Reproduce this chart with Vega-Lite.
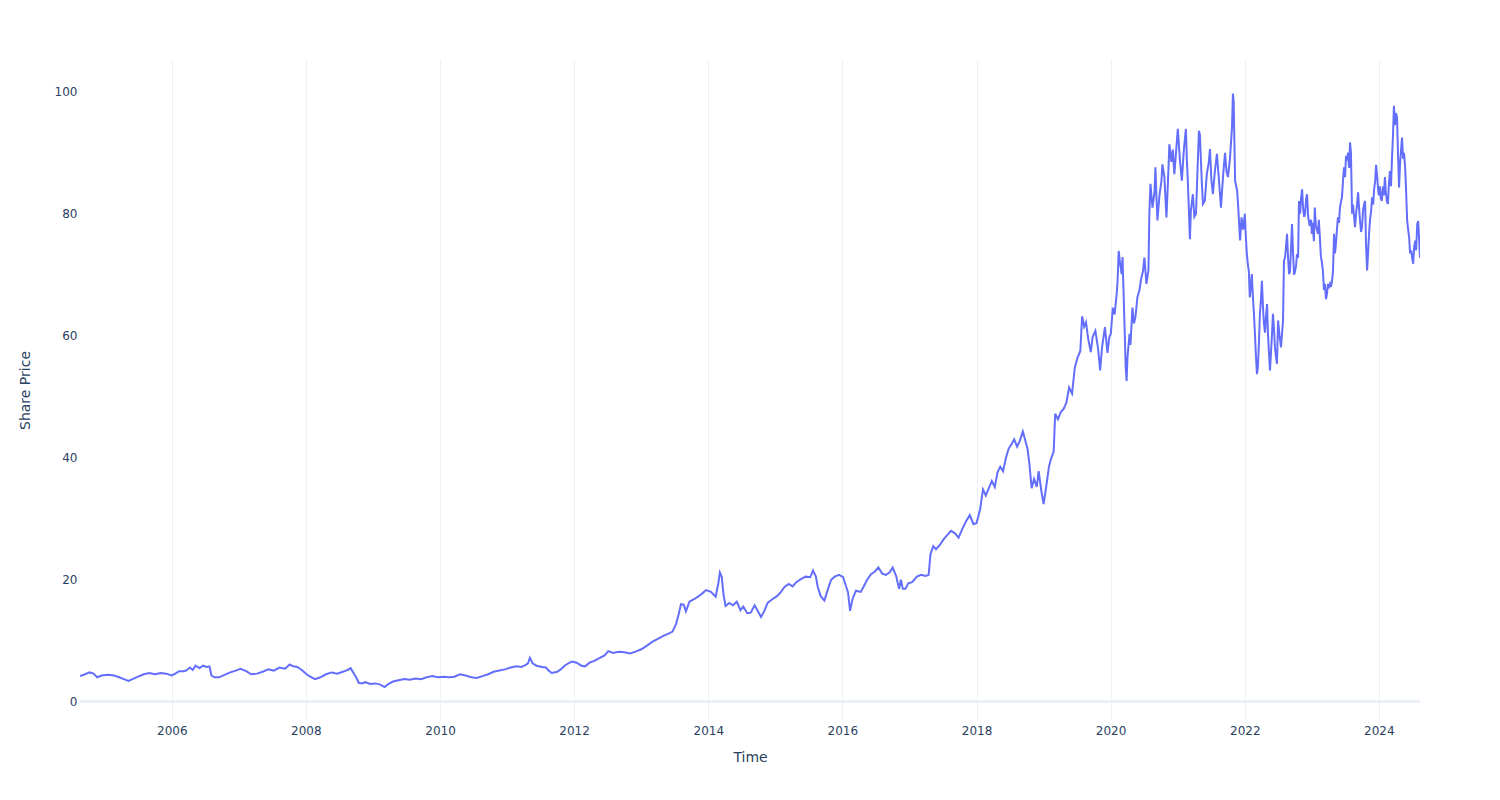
{
  "$schema": "https://vega.github.io/schema/vega-lite/v6.json",
  "width": 1340,
  "height": 660,
  "autosize": {"type": "none"},
  "padding": {"left": 80, "top": 60, "right": 80, "bottom": 80},
  "background": "white",
  "config": {
    "view": {"stroke": null},
    "font": "DejaVu Sans",
    "axis": {
      "domain": false,
      "ticks": false,
      "gridColor": "#EBF0F8",
      "gridWidth": 1,
      "labelColor": "#2a3f5f",
      "titleColor": "#2a3f5f",
      "labelFont": "DejaVu Sans",
      "titleFont": "DejaVu Sans",
      "labelFontSize": 12,
      "titleFontSize": 14,
      "titleFontWeight": "normal"
    }
  },
  "data": {"values": [
    {"d":"2004-08-19","v":4.2},{"d":"2004-09-15","v":4.5},{"d":"2004-10-10","v":4.8},{"d":"2004-11-01","v":4.6},{"d":"2004-11-20","v":4.0},{"d":"2004-12-15","v":4.3},
    {"d":"2005-01-20","v":4.4},{"d":"2005-02-20","v":4.3},{"d":"2005-03-20","v":4.0},{"d":"2005-04-15","v":3.7},{"d":"2005-05-10","v":3.4},{"d":"2005-06-01","v":3.7},{"d":"2005-07-01","v":4.1},{"d":"2005-08-01","v":4.5},{"d":"2005-09-01","v":4.7},{"d":"2005-10-01","v":4.5},{"d":"2005-11-01","v":4.7},{"d":"2005-12-01","v":4.6},
    {"d":"2006-01-01","v":4.3},{"d":"2006-01-20","v":4.6},{"d":"2006-02-10","v":5.0},{"d":"2006-03-05","v":5.0},{"d":"2006-03-20","v":5.1},{"d":"2006-04-10","v":5.6},{"d":"2006-04-25","v":5.2},{"d":"2006-05-10","v":5.9},{"d":"2006-06-01","v":5.5},{"d":"2006-06-20","v":5.9},{"d":"2006-07-10","v":5.7},{"d":"2006-07-25","v":5.8},{"d":"2006-08-05","v":4.3},{"d":"2006-08-20","v":4.0},{"d":"2006-09-15","v":4.0},{"d":"2006-10-15","v":4.4},{"d":"2006-11-15","v":4.8},{"d":"2006-12-15","v":5.1},
    {"d":"2007-01-10","v":5.4},{"d":"2007-02-10","v":5.0},{"d":"2007-03-10","v":4.5},{"d":"2007-04-10","v":4.6},{"d":"2007-05-10","v":4.9},{"d":"2007-06-10","v":5.3},{"d":"2007-07-10","v":5.1},{"d":"2007-08-10","v":5.6},{"d":"2007-09-10","v":5.4},{"d":"2007-10-05","v":6.1},{"d":"2007-10-25","v":5.8},{"d":"2007-11-15","v":5.7},{"d":"2007-12-10","v":5.2},
    {"d":"2008-01-05","v":4.5},{"d":"2008-01-25","v":4.1},{"d":"2008-02-20","v":3.7},{"d":"2008-03-20","v":4.0},{"d":"2008-04-20","v":4.5},{"d":"2008-05-20","v":4.8},{"d":"2008-06-20","v":4.6},{"d":"2008-07-20","v":4.9},{"d":"2008-08-15","v":5.2},{"d":"2008-09-01","v":5.5},{"d":"2008-09-15","v":4.8},{"d":"2008-10-01","v":4.0},{"d":"2008-10-15","v":3.1},{"d":"2008-11-01","v":3.0},{"d":"2008-11-20","v":3.2},{"d":"2008-12-15","v":2.9},
    {"d":"2009-01-15","v":3.0},{"d":"2009-02-10","v":2.8},{"d":"2009-03-05","v":2.4},{"d":"2009-03-25","v":2.9},{"d":"2009-04-20","v":3.3},{"d":"2009-05-20","v":3.5},{"d":"2009-06-20","v":3.7},{"d":"2009-07-20","v":3.6},{"d":"2009-08-20","v":3.8},{"d":"2009-09-20","v":3.7},{"d":"2009-10-20","v":4.0},{"d":"2009-11-20","v":4.2},{"d":"2009-12-20","v":4.0},
    {"d":"2010-01-20","v":4.1},{"d":"2010-02-20","v":4.0},{"d":"2010-03-20","v":4.1},{"d":"2010-04-20","v":4.5},{"d":"2010-05-20","v":4.3},{"d":"2010-06-20","v":4.0},{"d":"2010-07-20","v":3.9},{"d":"2010-08-20","v":4.2},{"d":"2010-09-20","v":4.5},{"d":"2010-10-20","v":4.9},{"d":"2010-11-20","v":5.1},{"d":"2010-12-20","v":5.3},
    {"d":"2011-01-20","v":5.6},{"d":"2011-02-20","v":5.8},{"d":"2011-03-20","v":5.7},{"d":"2011-04-10","v":6.0},{"d":"2011-04-25","v":6.3},{"d":"2011-05-05","v":7.2},{"d":"2011-05-20","v":6.3},{"d":"2011-06-10","v":5.9},{"d":"2011-07-10","v":5.7},{"d":"2011-08-01","v":5.6},{"d":"2011-08-15","v":5.1},{"d":"2011-09-01","v":4.7},{"d":"2011-10-01","v":4.9},{"d":"2011-10-20","v":5.3},{"d":"2011-11-10","v":5.9},{"d":"2011-12-01","v":6.3},{"d":"2011-12-20","v":6.6},
    {"d":"2012-01-15","v":6.4},{"d":"2012-02-10","v":5.9},{"d":"2012-03-01","v":5.8},{"d":"2012-03-25","v":6.4},{"d":"2012-04-20","v":6.7},{"d":"2012-05-20","v":7.2},{"d":"2012-06-15","v":7.6},{"d":"2012-07-05","v":8.3},{"d":"2012-08-01","v":8.0},{"d":"2012-09-01","v":8.2},{"d":"2012-10-01","v":8.1},{"d":"2012-11-01","v":7.9},{"d":"2012-12-01","v":8.2},
    {"d":"2013-01-01","v":8.6},{"d":"2013-02-01","v":9.2},{"d":"2013-03-01","v":9.8},{"d":"2013-04-01","v":10.3},{"d":"2013-05-01","v":10.8},{"d":"2013-06-01","v":11.2},{"d":"2013-06-20","v":11.5},{"d":"2013-07-10","v":12.8},{"d":"2013-07-25","v":14.5},{"d":"2013-08-05","v":16.0},{"d":"2013-08-20","v":15.9},{"d":"2013-09-01","v":14.8},{"d":"2013-09-20","v":16.4},{"d":"2013-10-15","v":16.8},{"d":"2013-11-10","v":17.3},{"d":"2013-12-01","v":17.8},{"d":"2013-12-20","v":18.3},
    {"d":"2014-01-15","v":18.0},{"d":"2014-02-10","v":17.2},{"d":"2014-02-25","v":19.5},{"d":"2014-03-05","v":21.2},{"d":"2014-03-15","v":20.5},{"d":"2014-03-25","v":17.5},{"d":"2014-04-05","v":15.7},{"d":"2014-04-25","v":16.2},{"d":"2014-05-15","v":15.8},{"d":"2014-06-05","v":16.4},{"d":"2014-06-25","v":15.0},{"d":"2014-07-10","v":15.6},{"d":"2014-08-01","v":14.5},{"d":"2014-08-20","v":14.6},{"d":"2014-09-10","v":15.8},{"d":"2014-09-25","v":15.0},{"d":"2014-10-15","v":13.9},{"d":"2014-11-01","v":14.8},{"d":"2014-11-20","v":16.2},{"d":"2014-12-15","v":16.8},
    {"d":"2015-01-10","v":17.3},{"d":"2015-02-01","v":18.0},{"d":"2015-02-20","v":18.8},{"d":"2015-03-15","v":19.3},{"d":"2015-04-05","v":18.9},{"d":"2015-04-25","v":19.6},{"d":"2015-05-20","v":20.1},{"d":"2015-06-15","v":20.5},{"d":"2015-07-10","v":20.4},{"d":"2015-07-25","v":21.5},{"d":"2015-08-10","v":20.5},{"d":"2015-08-20","v":18.8},{"d":"2015-09-05","v":17.3},{"d":"2015-09-25","v":16.6},{"d":"2015-10-15","v":18.5},{"d":"2015-11-01","v":20.0},{"d":"2015-11-20","v":20.5},{"d":"2015-12-15","v":20.8},
    {"d":"2016-01-05","v":20.4},{"d":"2016-01-20","v":19.0},{"d":"2016-02-01","v":17.9},{"d":"2016-02-12","v":14.9},{"d":"2016-02-25","v":16.8},{"d":"2016-03-15","v":18.2},{"d":"2016-04-10","v":18.0},{"d":"2016-04-25","v":18.8},{"d":"2016-05-15","v":20.0},{"d":"2016-06-05","v":20.9},{"d":"2016-06-25","v":21.3},{"d":"2016-07-15","v":22.0},{"d":"2016-08-05","v":21.0},{"d":"2016-08-25","v":20.8},{"d":"2016-09-15","v":21.2},{"d":"2016-10-01","v":22.0},{"d":"2016-10-20","v":20.6},{"d":"2016-11-05","v":18.5},{"d":"2016-11-15","v":20.0},{"d":"2016-11-25","v":18.5},{"d":"2016-12-10","v":18.5},{"d":"2016-12-25","v":19.4},
    {"d":"2017-01-15","v":19.6},{"d":"2017-02-10","v":20.5},{"d":"2017-03-05","v":20.8},{"d":"2017-03-30","v":20.6},{"d":"2017-04-15","v":20.8},{"d":"2017-04-25","v":24.2},{"d":"2017-05-10","v":25.5},{"d":"2017-05-25","v":25.0},{"d":"2017-06-15","v":25.7},{"d":"2017-07-05","v":26.6},{"d":"2017-07-25","v":27.3},{"d":"2017-08-15","v":28.0},{"d":"2017-09-05","v":27.6},{"d":"2017-09-25","v":26.9},{"d":"2017-10-15","v":28.3},{"d":"2017-11-05","v":29.6},{"d":"2017-11-25","v":30.6},{"d":"2017-12-15","v":29.1},
    {"d":"2018-01-01","v":29.3},{"d":"2018-01-20","v":31.5},{"d":"2018-02-05","v":34.8},{"d":"2018-02-20","v":33.8},{"d":"2018-03-10","v":35.1},{"d":"2018-03-25","v":36.2},{"d":"2018-04-10","v":35.2},{"d":"2018-04-25","v":37.6},{"d":"2018-05-10","v":38.5},{"d":"2018-05-25","v":37.8},{"d":"2018-06-10","v":40.0},{"d":"2018-06-25","v":41.5},{"d":"2018-07-10","v":42.2},{"d":"2018-07-25","v":43.0},{"d":"2018-08-10","v":41.8},{"d":"2018-08-25","v":42.8},{"d":"2018-09-10","v":44.3},{"d":"2018-09-20","v":43.2},{"d":"2018-10-05","v":41.5},{"d":"2018-10-15","v":39.2},{"d":"2018-10-28","v":35.0},{"d":"2018-11-10","v":36.5},{"d":"2018-11-25","v":35.2},{"d":"2018-12-05","v":37.8},{"d":"2018-12-20","v":34.5},
    {"d":"2019-01-01","v":32.4},{"d":"2019-01-15","v":35.2},{"d":"2019-01-30","v":38.5},{"d":"2019-02-10","v":39.8},{"d":"2019-02-25","v":41.0},{"d":"2019-03-05","v":47.2},{"d":"2019-03-20","v":46.3},{"d":"2019-04-05","v":47.5},{"d":"2019-04-20","v":48.0},{"d":"2019-05-05","v":49.0},{"d":"2019-05-20","v":51.5},{"d":"2019-06-05","v":50.5},{"d":"2019-06-20","v":54.8},{"d":"2019-07-05","v":56.4},{"d":"2019-07-20","v":57.5},{"d":"2019-07-30","v":63.2},{"d":"2019-08-10","v":61.5},{"d":"2019-08-20","v":62.2},{"d":"2019-09-01","v":59.5},{"d":"2019-09-15","v":57.3},{"d":"2019-09-25","v":59.8},{"d":"2019-10-10","v":60.8},{"d":"2019-10-25","v":57.8},{"d":"2019-11-05","v":54.3},{"d":"2019-11-15","v":58.0},{"d":"2019-12-01","v":61.4},{"d":"2019-12-15","v":57.2},{"d":"2019-12-25","v":59.8},
    {"d":"2020-01-02","v":60.3},{"d":"2020-01-13","v":64.6},{"d":"2020-01-23","v":63.5},{"d":"2020-02-03","v":66.8},{"d":"2020-02-08","v":69.0},{"d":"2020-02-14","v":73.9},{"d":"2020-02-21","v":72.0},{"d":"2020-03-01","v":70.1},{"d":"2020-03-06","v":72.9},{"d":"2020-03-17","v":61.4},{"d":"2020-03-23","v":55.0},{"d":"2020-03-28","v":52.6},{"d":"2020-04-02","v":56.5},{"d":"2020-04-13","v":60.3},{"d":"2020-04-18","v":58.5},{"d":"2020-04-29","v":64.6},{"d":"2020-05-07","v":62.0},{"d":"2020-05-15","v":63.0},{"d":"2020-05-26","v":66.3},{"d":"2020-06-06","v":67.5},{"d":"2020-06-17","v":69.6},{"d":"2020-06-25","v":70.5},{"d":"2020-07-03","v":72.8},{"d":"2020-07-14","v":68.5},{"d":"2020-07-25","v":70.7},{"d":"2020-07-30","v":80.0},{"d":"2020-08-05","v":84.9},{"d":"2020-08-16","v":81.0},{"d":"2020-08-27","v":83.5},{"d":"2020-09-01","v":87.6},{"d":"2020-09-07","v":82.5},{"d":"2020-09-12","v":78.9},{"d":"2020-09-23","v":83.0},{"d":"2020-10-04","v":85.4},{"d":"2020-10-09","v":88.1},{"d":"2020-10-20","v":86.0},{"d":"2020-10-31","v":79.4},{"d":"2020-11-08","v":85.0},{"d":"2020-11-16","v":91.4},{"d":"2020-11-27","v":88.5},{"d":"2020-12-05","v":90.5},{"d":"2020-12-13","v":86.5},{"d":"2020-12-21","v":89.5},
    {"d":"2021-01-01","v":93.9},{"d":"2021-01-12","v":89.0},{"d":"2021-01-23","v":85.4},{"d":"2021-02-03","v":90.5},{"d":"2021-02-14","v":93.9},{"d":"2021-02-19","v":89.0},{"d":"2021-02-25","v":85.0},{"d":"2021-03-08","v":75.8},{"d":"2021-03-13","v":80.5},{"d":"2021-03-24","v":83.2},{"d":"2021-04-01","v":79.5},{"d":"2021-04-10","v":80.0},{"d":"2021-04-18","v":87.0},{"d":"2021-04-26","v":93.6},{"d":"2021-05-01","v":93.0},{"d":"2021-05-12","v":84.9},{"d":"2021-05-18","v":81.6},{"d":"2021-05-28","v":82.1},{"d":"2021-06-08","v":86.5},{"d":"2021-06-19","v":88.5},{"d":"2021-06-25","v":90.6},{"d":"2021-07-03","v":85.5},{"d":"2021-07-11","v":83.2},{"d":"2021-07-22","v":87.0},{"d":"2021-08-02","v":89.8},{"d":"2021-08-13","v":85.5},{"d":"2021-08-24","v":81.0},{"d":"2021-09-04","v":86.0},{"d":"2021-09-15","v":90.0},{"d":"2021-09-23","v":87.0},{"d":"2021-10-01","v":86.0},{"d":"2021-10-12","v":89.0},{"d":"2021-10-23","v":94.1},{"d":"2021-10-28","v":99.7},{"d":"2021-11-01","v":98.5},{"d":"2021-11-09","v":85.4},{"d":"2021-11-20","v":83.8},{"d":"2021-11-25","v":81.6},{"d":"2021-12-06","v":75.6},{"d":"2021-12-14","v":79.4},{"d":"2021-12-23","v":77.4},
    {"d":"2022-01-01","v":80.0},{"d":"2022-01-06","v":76.5},{"d":"2022-01-12","v":73.4},{"d":"2022-01-17","v":71.8},{"d":"2022-01-23","v":70.5},{"d":"2022-01-28","v":66.3},{"d":"2022-02-03","v":68.0},{"d":"2022-02-08","v":70.1},{"d":"2022-02-14","v":66.3},{"d":"2022-02-19","v":64.0},{"d":"2022-02-25","v":60.3},{"d":"2022-03-02","v":57.0},{"d":"2022-03-08","v":53.7},{"d":"2022-03-13","v":54.8},{"d":"2022-03-19","v":59.0},{"d":"2022-03-24","v":63.6},{"d":"2022-03-30","v":66.0},{"d":"2022-04-04","v":69.0},{"d":"2022-04-10","v":64.6},{"d":"2022-04-15","v":62.0},{"d":"2022-04-21","v":60.5},{"d":"2022-04-26","v":63.0},{"d":"2022-05-02","v":65.2},{"d":"2022-05-07","v":60.3},{"d":"2022-05-12","v":57.5},{"d":"2022-05-18","v":54.3},{"d":"2022-05-23","v":57.0},{"d":"2022-05-29","v":60.3},{"d":"2022-06-03","v":63.6},{"d":"2022-06-09","v":61.0},{"d":"2022-06-14","v":58.1},{"d":"2022-06-20","v":56.5},{"d":"2022-06-25","v":55.4},{"d":"2022-07-01","v":62.5},{"d":"2022-07-09","v":60.0},{"d":"2022-07-17","v":58.1},{"d":"2022-07-23","v":60.5},{"d":"2022-07-28","v":62.5},{"d":"2022-08-02","v":72.3},{"d":"2022-08-08","v":72.8},{"d":"2022-08-13","v":74.5},{"d":"2022-08-19","v":76.7},{"d":"2022-08-24","v":73.0},{"d":"2022-08-30","v":70.1},{"d":"2022-09-04","v":70.5},{"d":"2022-09-09","v":74.0},{"d":"2022-09-15","v":78.3},{"d":"2022-09-20","v":74.0},{"d":"2022-09-26","v":70.0},{"d":"2022-10-01","v":70.5},{"d":"2022-10-07","v":71.5},{"d":"2022-10-12","v":73.4},{"d":"2022-10-18","v":72.8},{"d":"2022-10-23","v":82.1},{"d":"2022-10-29","v":80.0},{"d":"2022-11-03","v":82.5},{"d":"2022-11-09","v":84.0},{"d":"2022-11-14","v":81.0},{"d":"2022-11-20","v":79.5},{"d":"2022-11-25","v":80.0},{"d":"2022-12-01","v":82.5},{"d":"2022-12-06","v":83.2},{"d":"2022-12-12","v":79.5},{"d":"2022-12-20","v":78.0},{"d":"2022-12-28","v":79.0},
    {"d":"2023-01-01","v":76.7},{"d":"2023-01-06","v":78.5},{"d":"2023-01-12","v":75.5},{"d":"2023-01-17","v":81.0},{"d":"2023-01-23","v":78.0},{"d":"2023-01-28","v":77.5},{"d":"2023-02-03","v":76.7},{"d":"2023-02-08","v":79.0},{"d":"2023-02-14","v":76.0},{"d":"2023-02-19","v":73.0},{"d":"2023-02-25","v":72.0},{"d":"2023-03-02","v":70.7},{"d":"2023-03-08","v":67.5},{"d":"2023-03-13","v":68.5},{"d":"2023-03-19","v":66.0},{"d":"2023-03-24","v":66.8},{"d":"2023-03-30","v":68.5},{"d":"2023-04-04","v":67.8},{"d":"2023-04-10","v":68.5},{"d":"2023-04-15","v":68.0},{"d":"2023-04-21","v":69.0},{"d":"2023-04-26","v":70.5},{"d":"2023-05-02","v":76.7},{"d":"2023-05-07","v":73.5},{"d":"2023-05-12","v":75.0},{"d":"2023-05-18","v":77.5},{"d":"2023-05-23","v":79.4},{"d":"2023-05-29","v":78.5},{"d":"2023-06-03","v":81.0},{"d":"2023-06-09","v":82.0},{"d":"2023-06-14","v":82.7},{"d":"2023-06-20","v":85.5},{"d":"2023-06-25","v":87.6},{"d":"2023-07-01","v":86.0},{"d":"2023-07-06","v":89.5},{"d":"2023-07-12","v":88.7},{"d":"2023-07-17","v":90.0},{"d":"2023-07-23","v":87.5},{"d":"2023-07-28","v":91.7},{"d":"2023-08-02","v":90.0},{"d":"2023-08-08","v":80.0},{"d":"2023-08-13","v":81.5},{"d":"2023-08-19","v":79.5},{"d":"2023-08-24","v":77.8},{"d":"2023-08-30","v":80.0},{"d":"2023-09-04","v":81.5},{"d":"2023-09-10","v":83.5},{"d":"2023-09-15","v":81.0},{"d":"2023-09-20","v":79.0},{"d":"2023-09-26","v":77.0},{"d":"2023-10-01","v":77.8},{"d":"2023-10-07","v":80.5},{"d":"2023-10-12","v":81.5},{"d":"2023-10-18","v":82.1},{"d":"2023-10-23","v":75.0},{"d":"2023-10-29","v":70.7},{"d":"2023-11-03","v":73.5},{"d":"2023-11-09","v":77.0},{"d":"2023-11-14","v":79.0},{"d":"2023-11-20","v":80.5},{"d":"2023-11-25","v":82.7},{"d":"2023-12-01","v":81.5},{"d":"2023-12-06","v":84.0},{"d":"2023-12-12","v":85.4},{"d":"2023-12-17","v":88.0},{"d":"2023-12-23","v":86.0},{"d":"2023-12-28","v":83.8},
    {"d":"2024-01-01","v":83.0},{"d":"2024-01-06","v":84.5},{"d":"2024-01-12","v":82.5},{"d":"2024-01-17","v":82.1},{"d":"2024-01-23","v":84.5},{"d":"2024-01-28","v":83.0},{"d":"2024-02-03","v":86.0},{"d":"2024-02-08","v":83.5},{"d":"2024-02-14","v":82.0},{"d":"2024-02-19","v":81.6},{"d":"2024-02-25","v":85.0},{"d":"2024-03-01","v":87.0},{"d":"2024-03-07","v":84.5},{"d":"2024-03-12","v":88.7},{"d":"2024-03-18","v":93.0},{"d":"2024-03-23","v":97.7},{"d":"2024-03-29","v":94.5},{"d":"2024-04-03","v":96.5},{"d":"2024-04-09","v":95.8},{"d":"2024-04-14","v":90.0},{"d":"2024-04-20","v":84.3},{"d":"2024-04-25","v":88.0},{"d":"2024-05-01","v":90.5},{"d":"2024-05-06","v":92.5},{"d":"2024-05-12","v":89.0},{"d":"2024-05-17","v":90.0},{"d":"2024-05-23","v":87.6},{"d":"2024-05-28","v":84.0},{"d":"2024-06-03","v":78.9},{"d":"2024-06-08","v":77.5},{"d":"2024-06-14","v":76.1},{"d":"2024-06-19","v":73.5},{"d":"2024-06-25","v":74.0},{"d":"2024-06-30","v":72.8},{"d":"2024-07-06","v":71.8},{"d":"2024-07-11","v":74.5},{"d":"2024-07-17","v":75.6},{"d":"2024-07-22","v":74.0},{"d":"2024-07-28","v":78.3},{"d":"2024-08-02","v":78.8},{"d":"2024-08-07","v":76.0},{"d":"2024-08-12","v":72.8}
  ]},
  "layer": [
    {
      "mark": {"type": "rule", "color": "#EBF0F8", "strokeWidth": 2},
      "encoding": {"y": {"datum": 0, "type": "quantitative"}}
    },
    {
      "mark": {"type": "line", "color": "#636efa", "strokeWidth": 2, "clip": true},
      "encoding": {
        "x": {
          "field": "d", "type": "temporal", "title": "Time",
          "scale": {"domain": ["2004-08-19", "2024-08-12"], "nice": false},
          "axis": {
            "values": [{"year":2006},{"year":2008},{"year":2010},{"year":2012},{"year":2014},{"year":2016},{"year":2018},{"year":2020},{"year":2022},{"year":2024}],
            "format": "%Y", "labelPadding": 5, "titlePadding": 14, "labelFlush": false
          }
        },
        "y": {
          "field": "v", "type": "quantitative", "title": "Share Price",
          "scale": {"domain": [-3.0, 105.2], "nice": false, "zero": false},
          "axis": {"values": [0, 20, 40, 60, 80, 100], "labelPadding": 3, "titlePadding": 22}
        }
      }
    }
  ]
}
